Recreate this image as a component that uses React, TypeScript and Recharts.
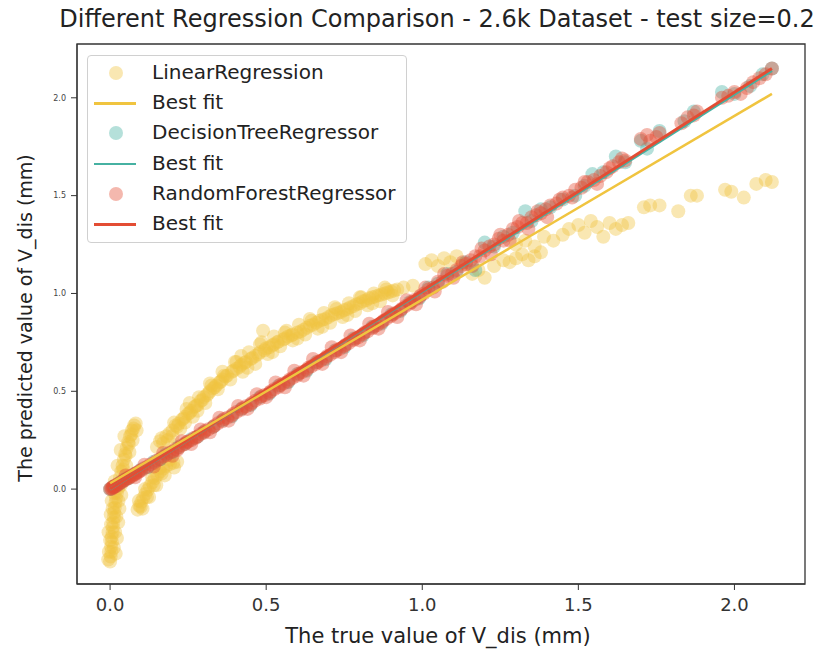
import { ComposedChart, Scatter, XAxis, YAxis, ReferenceArea } from "recharts";

// true vs predicted
const linearPoints: [number, number][] = [
  // steep streak near x = 0
  [0.0, -0.37], [0.002, -0.345], [0.004, -0.32], [0.003, -0.295], [0.006, -0.27], [0.005, -0.245],
  [0.008, -0.22], [0.009, -0.195], [0.01, -0.17], [0.012, -0.145], [0.013, -0.12], [0.015, -0.095],
  [0.017, -0.07], [0.019, -0.045], [0.022, -0.02], [0.026, 0.005], [0.029, 0.03], [0.032, 0.06],
  [0.036, 0.09], [0.04, 0.12], [0.044, 0.15], [0.048, 0.18], [0.053, 0.21], [0.058, 0.24],
  [0.064, 0.27], [0.07, 0.3], [0.077, 0.325], [0.082, 0.335],
  [0.012, -0.3], [0.016, -0.22], [0.02, -0.14], [0.027, -0.06], [0.034, 0.02], [0.042, 0.1],
  [0.05, 0.17], [0.06, 0.23], [0.068, 0.28], [0.075, 0.31], [-0.004, -0.32], [0.0, -0.26],
  [0.003, -0.18], [0.008, -0.1], [0.014, -0.02],
  [0.018, -0.33], [0.022, -0.25], [0.026, -0.17], [0.03, -0.1], [0.036, -0.03], [0.044, 0.05],
  [0.052, 0.12], [0.062, 0.19], [0.072, 0.25], [0.085, 0.3], [-0.006, -0.36], [-0.005, -0.22],
  [0.002, -0.13], [0.005, -0.06], [0.015, 0.04], [0.024, 0.12], [0.034, 0.2], [0.046, 0.27],
  // second short streak
  [0.088, -0.105], [0.094, -0.085], [0.1, -0.065], [0.106, -0.045], [0.113, -0.025], [0.12, -0.005],
  [0.127, 0.015], [0.135, 0.035], [0.143, 0.055], [0.151, 0.072], [0.16, 0.09], [0.17, 0.105],
  [0.18, 0.118], [0.192, 0.128], [0.203, 0.135], [0.098, -0.09], [0.118, -0.04], [0.14, 0.02],
  [0.165, 0.08], [0.092, -0.06], [0.104, -0.1], [0.112, 0.0], [0.125, -0.04], [0.135, 0.06],
  [0.148, 0.02], [0.16, 0.11], [0.175, 0.07], [0.19, 0.15], [0.205, 0.11], [0.215, 0.14],
  // upper curved band
  [0.15, 0.215], [0.16, 0.245], [0.17, 0.235], [0.18, 0.27], [0.19, 0.285], [0.2, 0.3],
  [0.21, 0.325], [0.22, 0.335], [0.23, 0.355], [0.24, 0.37], [0.25, 0.385], [0.26, 0.4],
  [0.27, 0.42], [0.28, 0.43], [0.29, 0.45], [0.3, 0.47], [0.31, 0.48], [0.32, 0.5],
  [0.33, 0.515], [0.34, 0.53], [0.35, 0.545], [0.36, 0.56], [0.375, 0.58], [0.39, 0.6],
  [0.405, 0.615], [0.42, 0.635], [0.435, 0.65], [0.45, 0.665], [0.465, 0.68], [0.48, 0.7],
  [0.495, 0.71], [0.51, 0.725], [0.525, 0.74], [0.54, 0.755], [0.555, 0.765], [0.57, 0.78],
  [0.585, 0.79], [0.6, 0.8], [0.62, 0.815], [0.64, 0.835], [0.66, 0.85], [0.68, 0.865],
  [0.7, 0.88], [0.72, 0.895], [0.74, 0.905], [0.76, 0.92], [0.78, 0.935], [0.8, 0.95],
  [0.82, 0.965], [0.84, 0.98], [0.86, 0.99], [0.88, 1.0], [0.9, 1.01], [0.92, 1.02],
  [0.2, 0.27], [0.24, 0.34], [0.28, 0.4], [0.32, 0.54], [0.36, 0.6], [0.4, 0.65],
  [0.44, 0.62], [0.48, 0.74], [0.52, 0.7], [0.56, 0.8], [0.6, 0.77], [0.64, 0.87],
  [0.68, 0.83], [0.72, 0.93], [0.76, 0.89], [0.8, 0.98], [0.84, 0.95], [0.88, 1.03],
  [0.42, 0.68], [0.49, 0.81], [0.255, 0.44],
  [0.165, 0.26], [0.185, 0.25], [0.205, 0.34], [0.225, 0.31], [0.245, 0.41], [0.265, 0.37],
  [0.285, 0.47], [0.305, 0.44], [0.325, 0.53], [0.345, 0.51], [0.365, 0.58], [0.385, 0.56],
  [0.405, 0.65], [0.425, 0.6], [0.445, 0.7], [0.465, 0.64], [0.485, 0.75], [0.505, 0.69],
  [0.525, 0.78], [0.545, 0.73], [0.565, 0.81], [0.585, 0.76], [0.605, 0.84], [0.625, 0.79],
  [0.645, 0.86], [0.665, 0.82], [0.685, 0.9], [0.705, 0.85], [0.725, 0.92], [0.745, 0.88],
  [0.765, 0.95], [0.785, 0.91], [0.805, 0.98], [0.825, 0.94], [0.845, 1.0], [0.865, 0.96],
  [0.885, 1.02], [0.905, 0.99],
  [0.215, 0.32], [0.235, 0.36], [0.255, 0.39], [0.275, 0.425], [0.295, 0.455], [0.315, 0.49],
  [0.335, 0.52], [0.355, 0.55], [0.37, 0.575], [0.395, 0.605], [0.415, 0.625], [0.43, 0.645],
  [0.455, 0.67], [0.475, 0.69], [0.5, 0.72], [0.52, 0.735], [0.535, 0.75], [0.56, 0.77],
  [0.58, 0.785], [0.61, 0.805], [0.63, 0.825], [0.65, 0.84], [0.67, 0.86], [0.69, 0.87],
  [0.71, 0.89], [0.73, 0.9], [0.75, 0.915], [0.77, 0.93], [0.79, 0.945], [0.81, 0.96],
  [0.83, 0.975], [0.85, 0.985], [0.87, 0.995], [0.89, 1.005], [0.91, 1.015],
  // flattening tail
  [0.94, 1.03], [0.97, 1.04], [1.01, 1.15], [1.03, 1.17], [1.05, 1.14], [1.07, 1.18],
  [1.09, 1.16], [1.11, 1.19], [1.13, 1.15], [1.16, 1.1], [1.18, 1.12], [1.2, 1.08],
  [1.23, 1.14], [1.26, 1.17], [1.28, 1.16], [1.3, 1.18], [1.32, 1.2], [1.34, 1.17],
  [1.36, 1.19], [1.38, 1.21], [1.3, 1.25], [1.33, 1.27], [1.36, 1.24], [1.39, 1.29],
  [1.42, 1.27], [1.45, 1.3], [1.47, 1.33], [1.5, 1.35], [1.52, 1.31], [1.54, 1.37],
  [1.56, 1.34], [1.58, 1.29], [1.6, 1.36], [1.62, 1.33], [1.64, 1.35], [1.66, 1.36],
  [1.71, 1.44], [1.73, 1.45], [1.76, 1.45], [1.82, 1.42], [1.86, 1.5], [1.88, 1.5],
  [1.97, 1.53], [1.99, 1.52], [2.03, 1.49], [2.07, 1.56], [2.1, 1.58], [2.12, 1.57],
];

const treePoints: [number, number][] = [
  [0, 0], [0.01, 0.012], [0.02, 0.018], [0.03, 0.03], [0.04, 0.04], [0.05, 0.052], [0.06, 0.056],
  [0.08, 0.078], [0.1, 0.1], [0.12, 0.112], [0.14, 0.14], [0.16, 0.152], [0.18, 0.178], [0.2, 0.19],
  [0.22, 0.215], [0.24, 0.232], [0.26, 0.255], [0.28, 0.268], [0.3, 0.292], [0.33, 0.318],
  [0.36, 0.352], [0.39, 0.372], [0.42, 0.41], [0.45, 0.43], [0.48, 0.47], [0.51, 0.488],
  [0.54, 0.528], [0.57, 0.546], [0.6, 0.588], [0.63, 0.605], [0.66, 0.648], [0.69, 0.664],
  [0.72, 0.708], [0.75, 0.725], [0.78, 0.77], [0.81, 0.786], [0.84, 0.83], [0.87, 0.846],
  [0.9, 0.892], [0.93, 0.91], [0.96, 0.955], [0.99, 0.975], [1.02, 1.03], [1.05, 1.05],
  [1.08, 1.1], [1.11, 1.11], [1.14, 1.16], [1.17, 1.12], [1.2, 1.26], [1.23, 1.24],
  [1.26, 1.29], [1.29, 1.31], [1.33, 1.42], [1.35, 1.37], [1.38, 1.43], [1.41, 1.44],
  [1.45, 1.48], [1.49, 1.5], [1.52, 1.55], [1.545, 1.61], [1.58, 1.62], [1.62, 1.7],
  [1.65, 1.67], [1.7, 1.78], [1.72, 1.74], [1.76, 1.83], [1.84, 1.88], [1.87, 1.93],
  [1.96, 2.03], [2.0, 2.02], [2.05, 2.06], [2.09, 2.12], [2.12, 2.15],
];

const forestPoints: [number, number][] = [
  [0, 0], [0.003, 0.004], [0.006, 0.002], [0.008, 0.01], [0.01, 0.008], [0.012, 0.014], [0.015, 0.012],
  [0.018, 0.02], [0.02, 0.016], [0.025, 0.026], [0.03, 0.027], [0.035, 0.036], [0.04, 0.037],
  [0.045, 0.046], [0.05, 0.047], [0.055, 0.055], [0.06, 0.057], [0.065, 0.066], [0.07, 0.066],
  [0.075, 0.075], [0.08, 0.076], [0.085, 0.084], [0.09, 0.086], [0.095, 0.094], [0.1, 0.095],
  [0.11, 0.108], [0.12, 0.114], [0.13, 0.127], [0.14, 0.134], [0.15, 0.146], [0.16, 0.153],
  [0.17, 0.166], [0.18, 0.172], [0.19, 0.185], [0.2, 0.192], [0.21, 0.205], [0.22, 0.211],
  [0.23, 0.224], [0.24, 0.23], [0.25, 0.243], [0.26, 0.25], [0.27, 0.263], [0.28, 0.269],
  [0.29, 0.282], [0.3, 0.288],
  [0.315, 0.306], [0.33, 0.318], [0.345, 0.336], [0.36, 0.347], [0.375, 0.365], [0.39, 0.376],
  [0.405, 0.394], [0.42, 0.405], [0.435, 0.423], [0.45, 0.434], [0.465, 0.452], [0.48, 0.463],
  [0.495, 0.481], [0.51, 0.492], [0.525, 0.51], [0.54, 0.521], [0.555, 0.54], [0.57, 0.55],
  [0.585, 0.569], [0.6, 0.58], [0.615, 0.598], [0.63, 0.61], [0.645, 0.628], [0.66, 0.64],
  [0.675, 0.657], [0.69, 0.67], [0.705, 0.686], [0.72, 0.7], [0.735, 0.716], [0.75, 0.731],
  [0.765, 0.746], [0.78, 0.762], [0.795, 0.776], [0.81, 0.792], [0.825, 0.806], [0.84, 0.822],
  [0.855, 0.838], [0.87, 0.852], [0.885, 0.87], [0.9, 0.884], [0.915, 0.902], [0.93, 0.915],
  [0.945, 0.934], [0.96, 0.947], [0.975, 0.966], [0.99, 0.98],
  [0.05, 0.07], [0.08, 0.06], [0.11, 0.125], [0.14, 0.115], [0.17, 0.185], [0.2, 0.17],
  [0.23, 0.245], [0.26, 0.23], [0.29, 0.305], [0.32, 0.29], [0.35, 0.365], [0.38, 0.35],
  [0.41, 0.425], [0.44, 0.41], [0.47, 0.485], [0.5, 0.47], [0.53, 0.545], [0.56, 0.52],
  [0.59, 0.605], [0.62, 0.58], [0.65, 0.665], [0.68, 0.64], [0.71, 0.725], [0.74, 0.7],
  [0.77, 0.785], [0.8, 0.76], [0.83, 0.845], [0.86, 0.82], [0.89, 0.905], [0.92, 0.88],
  [0.95, 0.965], [0.98, 0.945],
  [0.215, 0.2], [0.245, 0.24], [0.275, 0.262], [0.305, 0.298], [0.335, 0.325], [0.365, 0.358],
  [0.395, 0.385], [0.425, 0.415], [0.455, 0.442], [0.485, 0.474], [0.515, 0.5], [0.545, 0.532],
  [0.575, 0.56], [0.605, 0.59], [0.635, 0.62], [0.665, 0.65], [0.695, 0.68], [0.725, 0.71],
  [0.755, 0.738], [0.785, 0.768], [0.815, 0.8], [0.845, 0.83], [0.875, 0.86], [0.905, 0.892],
  [0.935, 0.922], [0.965, 0.955], [0.995, 0.99],
  [1.005, 1.0], [1.02, 1.02], [1.035, 1.03], [1.05, 1.06], [1.065, 1.06], [1.08, 1.09],
  [1.095, 1.1], [1.11, 1.12], [1.125, 1.14], [1.14, 1.15], [1.155, 1.17], [1.17, 1.19],
  [1.185, 1.19], [1.2, 1.22], [1.215, 1.24], [1.23, 1.25], [1.245, 1.28], [1.26, 1.27],
  [1.275, 1.3], [1.29, 1.33], [1.305, 1.34], [1.32, 1.36], [1.335, 1.36], [1.35, 1.39],
  [1.365, 1.4], [1.38, 1.41], [1.395, 1.43], [1.41, 1.45], [1.43, 1.46], [1.45, 1.49],
  [1.47, 1.5], [1.49, 1.53], [1.51, 1.54], [1.53, 1.57], [1.55, 1.58], [1.57, 1.6],
  [1.59, 1.62], [1.61, 1.65], [1.63, 1.67], [1.65, 1.68],
  [1.01, 1.03], [1.04, 1.01], [1.07, 1.1], [1.1, 1.08], [1.13, 1.16], [1.16, 1.14],
  [1.19, 1.23], [1.22, 1.2], [1.25, 1.3], [1.28, 1.27], [1.31, 1.37], [1.34, 1.33],
  [1.37, 1.42], [1.4, 1.39], [1.44, 1.48], [1.48, 1.49], [1.52, 1.57], [1.56, 1.56],
  [1.6, 1.64], [1.64, 1.69],
  [1.7, 1.79], [1.72, 1.81], [1.73, 1.78], [1.75, 1.8], [1.76, 1.82], [1.83, 1.87],
  [1.85, 1.9], [1.87, 1.91], [1.88, 1.93], [1.96, 2.0], [1.98, 2.01], [2.0, 2.03],
  [2.02, 2.02], [2.04, 2.05], [2.06, 2.08], [2.08, 2.1], [2.1, 2.12], [2.12, 2.15],
];

// best fit line end points
const linearFit: [number, number][] = [[0, 0.03], [2.12, 2.02]];
const treeFit: [number, number][] = [[0, 0.0], [2.12, 2.14]];
const forestFit: [number, number][] = [[0, 0.0], [2.12, 2.15]];

const ticks = [0, 0.5, 1.0, 1.5, 2.0];
const xDomain = [-0.106, 2.226];
const yDomain = [-0.485, 2.275];

const YELLOW = "#F0C43F";
const TEAL = "#46B1A2";
const RED = "#E34D34";
const FONT = "DejaVu Sans";

const toXY = (pts: [number, number][]) => pts.map(([x, y]) => ({ x, y }));

const dot = (color: string) => (props: any) =>
  <circle cx={props.cx} cy={props.cy} r={7} fill={color} fillOpacity={0.4} />;

const noDot = () => <g />;

const legendRows = [
  { kind: "dot", color: YELLOW, label: "LinearRegression" },
  { kind: "line", color: YELLOW, label: "Best fit" },
  { kind: "dot", color: TEAL, label: "DecisionTreeRegressor" },
  { kind: "line", color: TEAL, label: "Best fit" },
  { kind: "dot", color: RED, label: "RandomForestRegressor" },
  { kind: "line", color: RED, label: "Best fit" },
];

export default function App() {
  return (
    <div style={{ position: "absolute", left: 0, top: 0, width: 824, height: 650, background: "#fff", fontFamily: FONT }}>
      <div style={{ position: "absolute", left: 0, width: 874, top: 5, textAlign: "center", fontSize: 24, color: "#222", whiteSpace: "nowrap" }}>
        Different Regression Comparison - 2.6k Dataset - test size=0.2
      </div>

      <ComposedChart width={824} height={650} margin={{ top: 44, right: 19, bottom: 0, left: 0 }}>
        <XAxis
          type="number"
          dataKey="x"
          domain={xDomain}
          ticks={ticks}
          allowDataOverflow
          tickFormatter={(v: number) => v.toFixed(1)}
          height={66}
          tickSize={6}
          tickMargin={8}
          stroke="#333"
          tick={{ fontSize: 18, fill: "#333", fontFamily: FONT }}
        />
        <YAxis
          type="number"
          dataKey="y"
          domain={yDomain}
          ticks={ticks}
          allowDataOverflow
          tickFormatter={(v: number) => v.toFixed(1)}
          width={77}
          tickSize={6}
          tickMargin={5}
          stroke="#333"
          tick={{ fontSize: 8, fill: "#444", fontFamily: FONT }}
        />
        <ReferenceArea x1={xDomain[0]} x2={xDomain[1]} y1={yDomain[0]} y2={yDomain[1]} fill="none" stroke="#333" strokeWidth={1.3} />

        <Scatter data={toXY(linearPoints)} shape={dot(YELLOW)} isAnimationActive={false} />
        <Scatter data={toXY(treePoints)} shape={dot(TEAL)} isAnimationActive={false} />
        <Scatter data={toXY(forestPoints)} shape={dot(RED)} isAnimationActive={false} />

        <Scatter data={toXY(treeFit)} shape={noDot} line={{ stroke: TEAL, strokeWidth: 3 }} isAnimationActive={false} />
        <Scatter data={toXY(forestFit)} shape={noDot} line={{ stroke: RED, strokeWidth: 3 }} isAnimationActive={false} />
        <Scatter data={toXY(linearFit)} shape={noDot} line={{ stroke: YELLOW, strokeWidth: 2.5 }} isAnimationActive={false} />
      </ComposedChart>

      {/* legend */}
      <div style={{ position: "absolute", left: 87, top: 55, width: 318, height: 186, border: "1px solid #d0d0d0", borderRadius: 4, background: "rgba(255,255,255,0.8)" }}>
        {legendRows.map((r, i) => (
          <div key={i} style={{ position: "absolute", left: 0, top: 2 + i * 30.2, height: 30, width: 318 }}>
            {r.kind === "dot" ? (
              <div style={{ position: "absolute", left: 21, top: 8, width: 14, height: 14, borderRadius: 7, background: r.color, opacity: 0.4 }} />
            ) : (
              <div style={{ position: "absolute", left: 6, top: 14, width: 42, height: 2.5, background: r.color }} />
            )}
            <span style={{ position: "absolute", left: 64, top: 2, fontSize: 20, lineHeight: "24px", color: "#222", whiteSpace: "nowrap" }}>{r.label}</span>
          </div>
        ))}
      </div>

      <div style={{ position: "absolute", left: 0, width: 876, top: 623, textAlign: "center", fontSize: 21, lineHeight: "26px", color: "#222" }}>
        The true value of V_dis (mm)
      </div>
      <div style={{ position: "absolute", left: 25, top: 318, width: 0, height: 0 }}>
        <div style={{ position: "absolute", transform: "translate(-50%, -50%) rotate(-90deg)", whiteSpace: "nowrap", fontSize: 19, color: "#222" }}>
          The predicted value of V_dis (mm)
        </div>
      </div>
    </div>
  );
}
